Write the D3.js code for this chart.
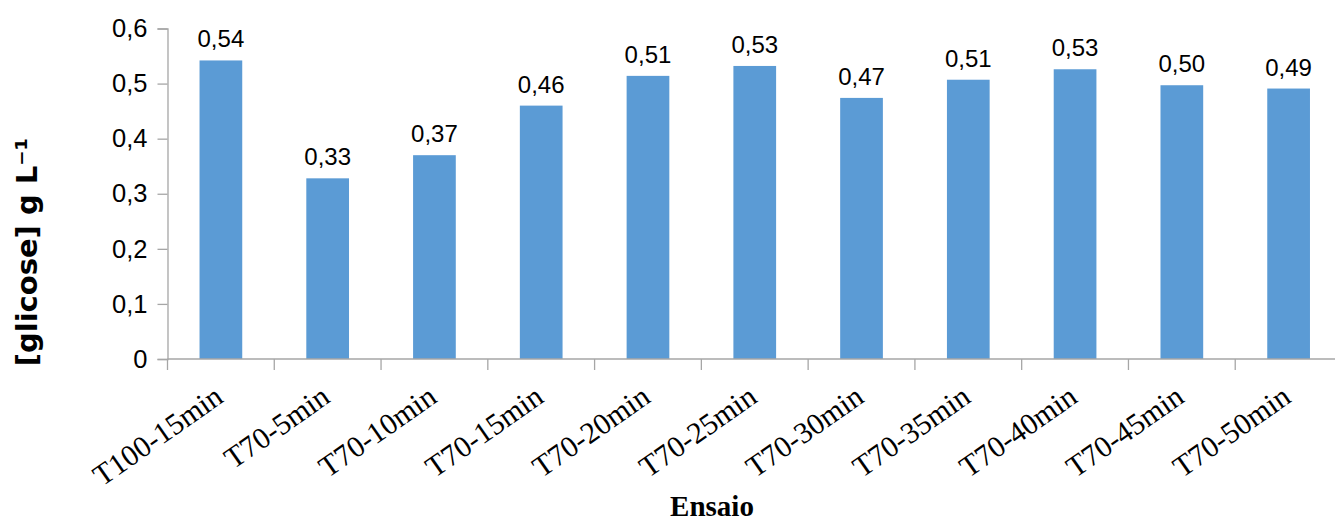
<!DOCTYPE html>
<html>
<head>
<meta charset="utf-8">
<script src="https://cdn.jsdelivr.net/npm/d3@7"></script>
<style>
  html, body { margin: 0; padding: 0; background: #fff; }
  svg { display: block; }
</style>
</head>
<body>
<svg id="chart" width="1335" height="522"></svg>
<script>
// Glucose concentration per assay
const categories = ["T100-15min", "T70-5min", "T70-10min", "T70-15min", "T70-20min", "T70-25min",
                    "T70-30min", "T70-35min", "T70-40min", "T70-45min", "T70-50min"];
const glucose = [0.542, 0.328, 0.370, 0.460, 0.514, 0.532, 0.474, 0.507, 0.526, 0.497, 0.491];
const yTicks = [0, 0.1, 0.2, 0.3, 0.4, 0.5, 0.6];

const svg = d3.select("#chart");
const margin = { left: 167.5, right: -7, top: 28.5, bottom: 163 };
const W = 1335, H = 522;

const x = d3.scaleBand()
  .domain(categories)
  .range([margin.left, W - margin.right])
  .paddingInner(0.6)
  .paddingOuter(0.3);

const y = d3.scaleLinear()
  .domain([0, 0.6])
  .range([H - margin.bottom, margin.top]);

const fmt = v => d3.format(".2f")(v).replace(".", ",");
const fmtTick = v => (v === 0 ? "0" : d3.format(".1f")(v).replace(".", ","));

// Bars
svg.append("g").selectAll("rect")
  .data(glucose)
  .join("rect")
  .attr("x", (d, i) => x(categories[i]))
  .attr("width", x.bandwidth())
  .attr("y", d => y(d))
  .attr("height", d => y(0) - y(d))
  .attr("fill", "#5b9bd5");

// Value labels
svg.append("g").selectAll("text")
  .data(glucose)
  .join("text")
  .attr("x", (d, i) => x(categories[i]) + x.bandwidth() / 2)
  .attr("y", d => y(d) - 13)
  .attr("text-anchor", "middle")
  .attr("font-family", "'Liberation Sans', Arial, sans-serif")
  .attr("font-size", 24)
  .attr("fill", "#000")
  .text(d => fmt(d));

// Y axis
const yAxis = svg.append("g")
  .attr("transform", `translate(${margin.left},0)`)
  .call(d3.axisLeft(y).tickValues(yTicks).tickFormat(fmtTick).tickSize(10).tickPadding(10));
yAxis.selectAll("path, line").attr("stroke", "#a6a6a6").attr("stroke-width", 1.3);
yAxis.selectAll("text")
  .attr("font-family", "'Liberation Sans', Arial, sans-serif")
  .attr("font-size", 25.5)
  .attr("fill", "#000");

// X axis with boundary ticks between categories
const xAxisG = svg.append("g").attr("transform", `translate(0,${y(0)})`);
const step = x.step();
const x0 = margin.left;
const bounds = d3.range(categories.length + 1).map(i => x0 + i * step);
xAxisG.append("line")
  .attr("x1", x0).attr("x2", W)
  .attr("y1", 0).attr("y2", 0)
  .attr("stroke", "#a6a6a6").attr("stroke-width", 1.3);
xAxisG.selectAll("line.tick")
  .data(bounds)
  .join("line")
  .attr("class", "tick")
  .attr("x1", d => d).attr("x2", d => d)
  .attr("y1", 0).attr("y2", 11)
  .attr("stroke", "#a6a6a6").attr("stroke-width", 1.3);

// Rotated category labels
xAxisG.selectAll("text")
  .data(categories)
  .join("text")
  .attr("transform", d => `translate(${x(d) + x.bandwidth() / 2 + 4},${42}) rotate(-35)`)
  .attr("text-anchor", "end")
  .attr("font-family", "'Liberation Serif', 'Times New Roman', serif")
  .attr("font-size", 30)
  .attr("fill", "#000")
  .text(d => d);

// Axis titles
svg.append("text")
  .attr("transform", `translate(37,252) rotate(-90)`)
  .attr("text-anchor", "middle")
  .attr("font-family", "'DejaVu Sans', sans-serif")
  .attr("font-weight", "bold")
  .attr("font-size", 29)
  .attr("fill", "#000")
  .text("[glicose] g L\u207B\u00B9");

svg.append("text")
  .attr("x", 712)
  .attr("y", 516)
  .attr("text-anchor", "middle")
  .attr("font-family", "'Liberation Serif', 'Times New Roman', serif")
  .attr("font-weight", "bold")
  .attr("font-size", 29)
  .attr("fill", "#000")
  .text("Ensaio");
</script>
</body>
</html>
